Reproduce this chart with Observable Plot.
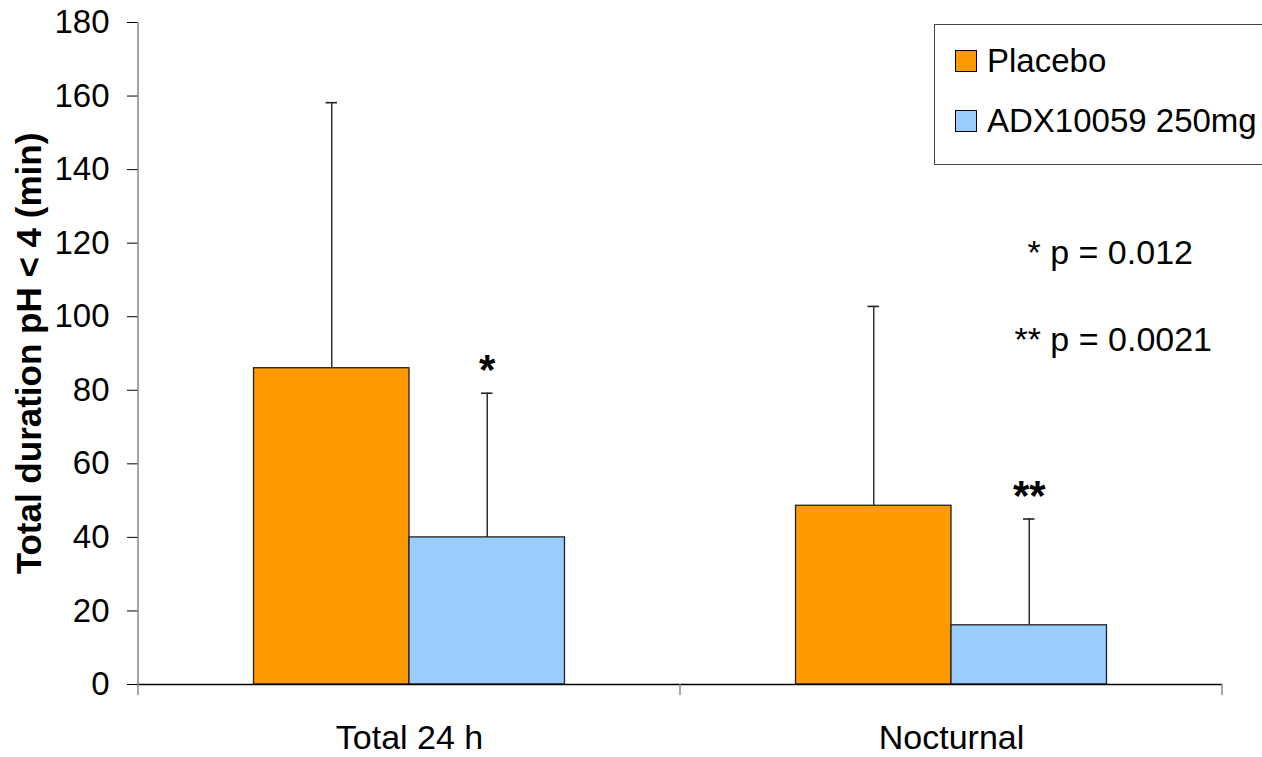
<!DOCTYPE html>
<html><head><meta charset="utf-8">
<script src="https://cdn.jsdelivr.net/npm/d3@7"></script>
<script src="https://cdn.jsdelivr.net/npm/@observablehq/plot@0.6"></script>
<style>
body{margin:0;background:#fff;overflow:hidden;font-family:"Liberation Sans",Arial,sans-serif}
#wrap{position:relative;width:1262px;height:757px;overflow:hidden}
#legend{position:absolute;left:934px;top:24px;width:360px;height:141px;border:1px solid #444;background:#fff;box-sizing:border-box}
.item{position:absolute;left:20px;display:flex;align-items:center;font-size:33px;color:#000;white-space:nowrap}
.sw{width:22px;height:22px;border:1px solid #000;margin-right:10px;box-sizing:border-box}
g[aria-label="y-axis label"] text{font-weight:bold;font-size:35px}
</style></head><body><div id="wrap"></div>
<script>
const categories = ["Total 24 h", "Nocturnal"];
const series = ["Placebo", "ADX10059 250mg"];
const placeboMean = [86.0, 48.6];
const placeboSD = [72.2, 54.2];
const adxMean = [40.0, 16.1];
const adxSD = [39.2, 28.9];
const significance = ["*", "**"];
const yTicks = [0, 20, 40, 60, 80, 100, 120, 140, 160, 180];
const notes = ["* p = 0.012", "** p = 0.0021"];
const colors = ["#FF9900", "#99CCFF"];

const rows = categories.flatMap((c, i) => [
  {category: c, series: series[0], mean: placeboMean[i], sd: placeboSD[i], sig: ""},
  {category: c, series: series[1], mean: adxMean[i], sd: adxSD[i], sig: significance[i]}
]);
const errTop = d => d.mean + d.sd;
const font = "Liberation Sans, Arial, sans-serif";

const plot = Plot.plot({
  width: 1262, height: 757,
  marginLeft: 138, marginRight: 40, marginTop: 22, marginBottom: 73,
  style: {fontFamily: font, fontSize: "33px", color: "#000", background: "#fff"},
  fx: {domain: categories, padding: 0, axis: null, label: null},
  x: {domain: series, paddingInner: 0, paddingOuter: 0.743, round: false, axis: null},
  y: {domain: [0, 180], axis: null},
  color: {domain: series, range: colors},
  marks: [
    Plot.axisY({ticks: yTicks, tickSize: 11, tickPadding: 18, fontSize: 33, tickFormat: d => d,
      label: "Total duration pH < 4 (min)", labelAnchor: "center", labelArrow: "none", labelOffset: 122}),
    Plot.axisFx({anchor: "bottom", tickSize: 0, tickPadding: 40, fontSize: 34, label: null}),
    Plot.barY(rows, {fx: "category", x: "series", y: "mean", fill: "series", stroke: "#222", strokeWidth: 1.3}),
    Plot.ruleX(rows, {fx: "category", x: "series", y1: "mean", y2: errTop, stroke: "#222", strokeWidth: 1.4}),
    Plot.tickY(rows, {fx: "category", x: "series", y: errTop, insetLeft: 72, insetRight: 72, stroke: "#222", strokeWidth: 1.6}),
    Plot.ruleY([0], {stroke: "#000", strokeWidth: 1.3}),
    Plot.text(rows.filter(d => d.sig), {fx: "category", x: "series", y: errTop, text: "sig",
      lineAnchor: "bottom", dy: -9, fontSize: 42, fontWeight: "bold"}),
    Plot.text([notes[0]], {fx: () => categories[1], x: () => series[1], y: () => 114.2, text: d => d,
      lineAnchor: "bottom", dx: 81, fontSize: 34}),
    Plot.text([notes[1]], {fx: () => categories[1], x: () => series[1], y: () => 90.8, text: d => d,
      lineAnchor: "bottom", dx: 84, fontSize: 34})
  ]
});

// y-axis line and category boundary ticks, positioned from Plot's own scales
const fxs = plot.scale("fx"), ys = plot.scale("y");
const bw = fxs.bandwidth != null ? fxs.bandwidth : (fxs.range[1] - fxs.range[0]) / categories.length;
const bounds = categories.map(c => fxs.apply(c)).concat([fxs.apply(categories[categories.length - 1]) + bw]);
const y0 = ys.apply(0), yMax = ys.apply(180);
const g = d3.select(plot).append("g").attr("stroke", "#808080").attr("stroke-width", 1.4);
g.append("line").attr("x1", bounds[0]).attr("x2", bounds[0]).attr("y1", yMax).attr("y2", y0);
bounds.forEach(b => g.append("line").attr("x1", b).attr("x2", b).attr("y1", y0).attr("y2", y0 + 11));

const wrap = document.getElementById("wrap");
wrap.appendChild(plot);
plot.style.position = "absolute"; plot.style.left = "0"; plot.style.top = "0";

const legend = document.createElement("div");
legend.id = "legend";
series.forEach((s, i) => {
  const it = document.createElement("div");
  it.className = "item";
  it.style.top = (i === 0 ? 17 : 77) + "px";
  const sw = document.createElement("div");
  sw.className = "sw"; sw.style.background = colors[i];
  it.appendChild(sw);
  it.appendChild(document.createTextNode(s));
  legend.appendChild(it);
});
wrap.appendChild(legend);
</script></body></html>
